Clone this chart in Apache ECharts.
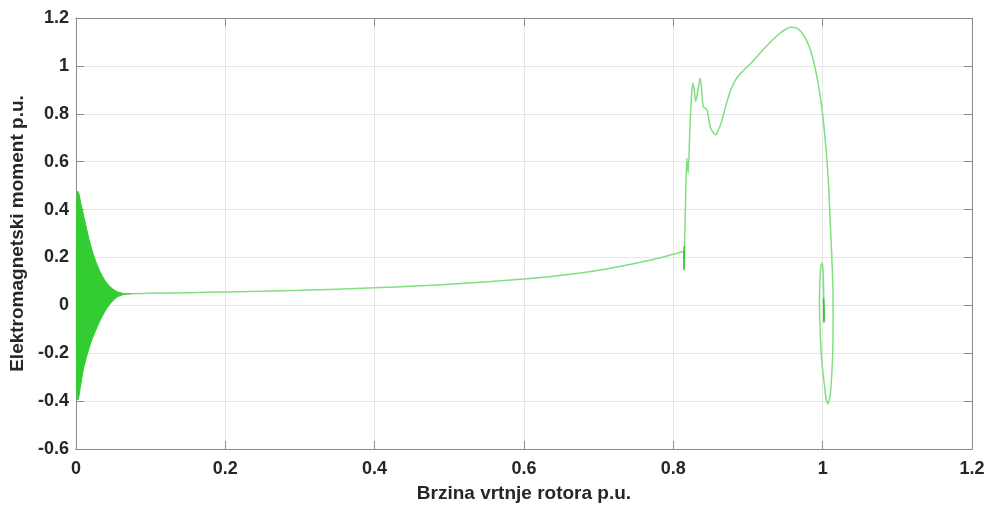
<!DOCTYPE html>
<html>
<head>
<meta charset="utf-8">
<script src="https://cdn.jsdelivr.net/npm/echarts@6/dist/echarts.min.js"></script>
<style>
html,body{margin:0;padding:0;background:#fff;}
#chart{width:989px;height:508px;}
</style>
</head>
<body>
<div id="chart"></div>
<script>
// ---- data ----
// start-up oscillation band (envelope of the dense oscillation)
var envX     = [0.001, 0.003, 0.007, 0.011, 0.020, 0.029, 0.038, 0.047, 0.056, 0.065, 0.074];
var envUpper = [0.44, 0.476, 0.42, 0.365, 0.247, 0.164, 0.108, 0.074, 0.056, 0.049, 0.048];
var envLower = [-0.37, -0.395, -0.32, -0.253, -0.156, -0.086, -0.03, 0.011, 0.036, 0.046, 0.048];

// quasi-steady acceleration part
var rampX = [0.074, 0.1, 0.15, 0.2, 0.3, 0.4, 0.5, 0.6, 0.65, 0.7, 0.75, 0.784, 0.8, 0.814];
var rampY = [0.048, 0.05, 0.053, 0.056, 0.063, 0.073, 0.088, 0.11, 0.126, 0.147, 0.176, 0.2, 0.213, 0.226];

// dense dip near the step
var dipX = [0.814, 0.8142, 0.8144, 0.8146, 0.8148, 0.815];
var dipY = [0.226, 0.147, 0.245, 0.155, 0.24, 0.25];

// transient loop towards synchronous speed
var loopX = [0.815, 0.8165, 0.818, 0.819, 0.820, 0.822, 0.824, 0.826, 0.828, 0.830, 0.833, 0.836, 0.838, 0.840, 0.845, 0.848, 0.850, 0.854, 0.857, 0.860, 0.864, 0.870, 0.877, 0.884, 0.892, 0.904, 0.922, 0.940, 0.950, 0.958, 0.965, 0.971, 0.977, 0.982, 0.987, 0.992, 0.998, 1.002, 1.005, 1.008, 1.010, 1.012, 1.0137, 1.014, 1.0135, 1.012, 1.010, 1.007, 1.0045, 1.0025, 1.000, 0.998, 0.9965, 0.9957, 0.9962, 0.9975, 0.9993, 1.0005, 1.001, 1.0017, 1.0025, 1.0022];
var loopY = [0.25, 0.45, 0.615, 0.58, 0.553, 0.72, 0.86, 0.928, 0.9, 0.851, 0.9, 0.949, 0.9, 0.83, 0.817, 0.77, 0.74, 0.72, 0.7125, 0.73, 0.761, 0.83, 0.9, 0.945, 0.975, 1.011, 1.074, 1.129, 1.152, 1.161, 1.158, 1.143, 1.115, 1.081, 1.03, 0.96, 0.846, 0.74, 0.6375, 0.5, 0.358, 0.22, 0.08, -0.06, -0.196, -0.3, -0.378, -0.4125, -0.39, -0.336, -0.27, -0.196, -0.09, 0.0125, 0.09, 0.16, 0.178, 0.15, 0.1, 0.011, -0.07, -0.05];

// final settling oscillation (dense)
var endX = [1.0022, 1.0012, 1.0016, 1.0013, 1.0015, 1.0014];
var endY = [-0.05, 0.03, -0.072, 0.025, -0.06, 0.0];

var xTicks = [0, 0.2, 0.4, 0.6, 0.8, 1, 1.2];
var yTicks = [-0.6, -0.4, -0.2, 0, 0.2, 0.4, 0.6, 0.8, 1, 1.2];

// ---- build series data ----
function pairs(xs, ys) { return xs.map(function (x, i) { return [x, ys[i]]; }); }

var chart = echarts.init(document.getElementById('chart'), null, {renderer: 'canvas'});
var fontFam = '"Liberation Sans", Arial, Helvetica, sans-serif';
var textCol = '#262626';
var axisCol = '#8a8a8a';

var lineCol = '#80e080';
var denseCol = '#33cc33';

var option = {
  animation: false,
  backgroundColor: '#ffffff',
  grid: {left: 75, right: 17, top: 18, bottom: 58, containLabel: false},
  xAxis: [{
    type: 'value', min: xTicks[0], max: xTicks[xTicks.length - 1], interval: 0.2,
    name: 'Brzina vrtnje rotora p.u.', nameLocation: 'middle', nameGap: 35,
    nameTextStyle: {fontFamily: fontFam, fontWeight: 'bold', fontSize: 19, color: textCol},
    axisLine: {show: true, onZero: false, lineStyle: {color: axisCol, width: 1}},
    axisTick: {show: true, inside: true, length: 8, lineStyle: {color: axisCol}},
    axisLabel: {fontFamily: fontFam, fontWeight: 'bold', fontSize: 18, color: textCol, margin: 11},
    splitLine: {show: true, lineStyle: {color: '#e6e6e6', width: 1}}
  }, {
    type: 'value', position: 'top', min: xTicks[0], max: xTicks[xTicks.length - 1], interval: 0.2,
    axisLine: {show: true, onZero: false, lineStyle: {color: axisCol, width: 1}},
    axisTick: {show: true, inside: true, length: 8, lineStyle: {color: axisCol}},
    axisLabel: {show: false}, splitLine: {show: false}
  }],
  yAxis: [{
    type: 'value', min: yTicks[0], max: yTicks[yTicks.length - 1], interval: 0.2,
    name: 'Elektromagnetski moment p.u.', nameLocation: 'middle', nameGap: 46, nameRotate: 90,
    nameTextStyle: {fontFamily: fontFam, fontWeight: 'bold', fontSize: 19, color: textCol},
    axisLine: {show: true, onZero: false, lineStyle: {color: axisCol, width: 1}},
    axisTick: {show: true, inside: true, length: 8, lineStyle: {color: axisCol}},
    axisLabel: {fontFamily: fontFam, fontWeight: 'bold', fontSize: 18, color: textCol, margin: 7,
      formatter: function (v) { return String(Math.round(v * 10) / 10); }},
    splitLine: {show: true, lineStyle: {color: '#e6e6e6', width: 1}}
  }, {
    type: 'value', position: 'right', min: yTicks[0], max: yTicks[yTicks.length - 1], interval: 0.2,
    axisLine: {show: true, onZero: false, lineStyle: {color: axisCol, width: 1}},
    axisTick: {show: true, inside: true, length: 8, lineStyle: {color: axisCol}},
    axisLabel: {show: false}, splitLine: {show: false}
  }],
  series: [
    {
      type: 'custom',
      xAxisIndex: 0, yAxisIndex: 0,
      data: [[envX[0], envUpper[0]]],
      clip: true,
      silent: true,
      z: 3,
      renderItem: function (params, api) {
        var pts = [];
        for (var i = 0; i < envX.length; i++) pts.push(api.coord([envX[i], envUpper[i]]));
        for (var j = envX.length - 1; j >= 0; j--) pts.push(api.coord([envX[j], envLower[j]]));
        return {
          type: 'polygon',
          shape: {points: pts, smooth: 0.3},
          style: {fill: denseCol, stroke: denseCol, lineWidth: 1}
        };
      }
    },
    {
      type: 'line', data: pairs(rampX, rampY), showSymbol: false, smooth: 0.3,
      lineStyle: {color: lineCol, width: 1.5}, z: 2
    },
    {
      type: 'line', data: pairs(loopX, loopY), showSymbol: false, smooth: 0.2,
      lineStyle: {color: lineCol, width: 1.5}, z: 2
    },
    {
      type: 'line', data: pairs(dipX, dipY), showSymbol: false,
      lineStyle: {color: denseCol, width: 1.5}, z: 3
    },
    {
      type: 'line', data: pairs(endX, endY), showSymbol: false,
      lineStyle: {color: denseCol, width: 1.5}, z: 3
    }
  ]
};
chart.setOption(option);
</script>
</body>
</html>
